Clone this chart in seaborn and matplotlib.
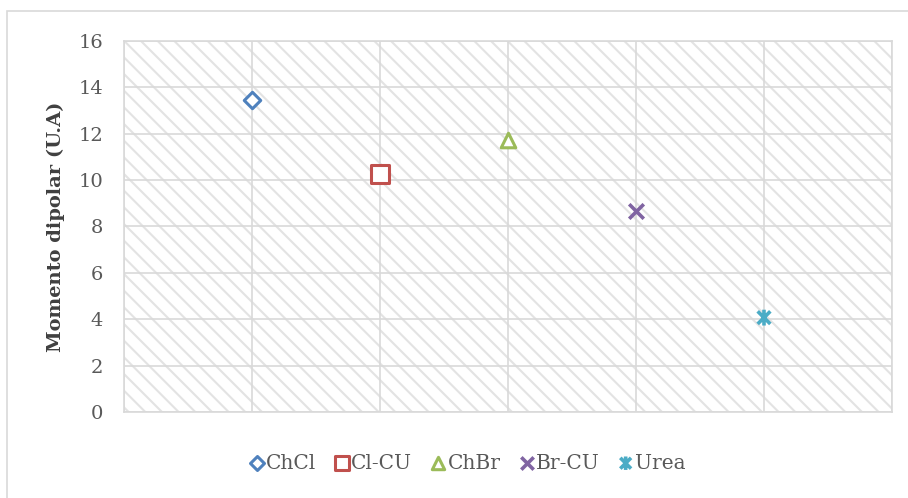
import matplotlib
matplotlib.use("Agg")
import matplotlib.pyplot as plt
import matplotlib.patches as mpatches
from matplotlib.path import Path
import seaborn as sns
import pandas as pd

# Dipole moment of each compound
compounds = ["ChCl", "Cl-CU", "ChBr", "Br-CU", "Urea"]
dipole = [13.45, 10.25, 11.75, 8.65, 4.07]
colors = ["#4F81BD", "#C0504D", "#9BBB59", "#8064A2", "#4BACC6"]
y_ticks = [0, 2, 4, 6, 8, 10, 12, 14, 16]

# Asterisk-style marker: an x crossed by a vertical bar
star = Path(
    [(-1, -1), (1, 1), (-1, 1), (1, -1), (0, -1.25), (0, 1.25)],
    [Path.MOVETO, Path.LINETO, Path.MOVETO, Path.LINETO, Path.MOVETO, Path.LINETO],
)
markers = ["D", "s", "^", "x", star]
sizes = [70, 150, 110, 110, 130]

df = pd.DataFrame({"compound": compounds, "dipole": dipole,
                   "pos": range(1, len(compounds) + 1)})

sns.set_theme(style="white")
plt.rcParams["font.family"] = ["DejaVu Serif"]
plt.rcParams["hatch.linewidth"] = 1.5

fig = plt.figure(figsize=(9.08, 4.98), dpi=100)
ax = fig.add_axes([124 / 908, 1 - 412 / 498, 768 / 908, 371 / 498])

# Outer chart border
fig.patches.append(mpatches.Rectangle((7 / 908, -0.1), 1.2, 1 - 11 / 498 + 0.1,
                                      transform=fig.transFigure, fill=False,
                                      edgecolor="#d9d9d9", linewidth=1.2))

# Hatched plot area
ax.add_patch(mpatches.Rectangle((0, 0), 1, 1, transform=ax.transAxes,
                                facecolor="white", edgecolor="#e3e3e3",
                                linewidth=0, hatch="\\\\", zorder=0))

for i, row in df.iterrows():
    m = markers[i]
    if m == "x":
        kw = dict(color=colors[i], linewidth=2.6)
    else:
        kw = dict(facecolor="none" if m is star else "white",
                  edgecolor=colors[i], linewidth=2.6 if m is star else 2.2)
    sns.scatterplot(x=[row["pos"]], y=[row["dipole"]], marker=m, s=sizes[i],
                    ax=ax, label=row["compound"], zorder=5, **kw)

ax.set_xlim(0, 6)
ax.set_ylim(0, 16)
ax.set_xticks(range(0, 7))
ax.set_xticklabels([])
ax.set_yticks(y_ticks)
ax.set_yticklabels([str(v) for v in y_ticks])
ax.grid(True, color="#d9d9d9", linewidth=1.2)
ax.set_axisbelow(True)
ax.tick_params(axis="both", length=0, labelsize=14, colors="#595959", pad=15)
for s in ax.spines.values():
    s.set_color("#d9d9d9")
    s.set_linewidth(1.2)
ax.set_xlabel("")
ax.set_ylabel("Momento dipolar (U.A)", fontsize=14, fontweight="bold",
              color="#404040", labelpad=10)

leg = ax.legend(loc="center", bbox_to_anchor=(467 / 908, 1 - 463 / 498),
                bbox_transform=fig.transFigure, ncol=5,
                frameon=False, fontsize=14.5, handletextpad=0.05,
                handlelength=0.8, columnspacing=0.9, markerscale=0.85)
for t in leg.get_texts():
    t.set_color("#595959")

fig.savefig("out.png", dpi=100)
